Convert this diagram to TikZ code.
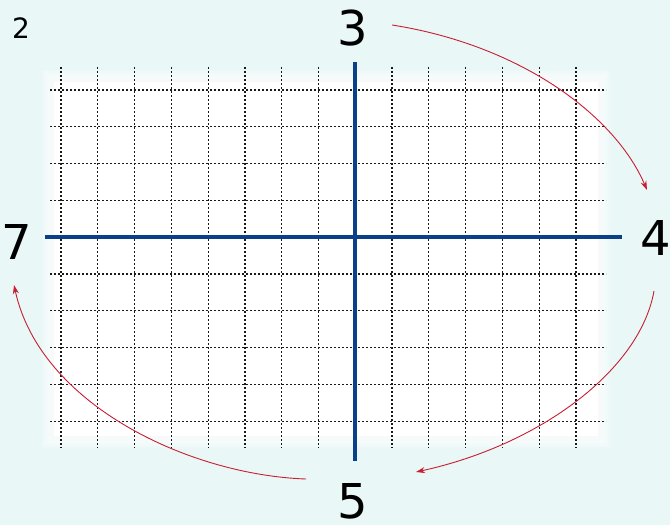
\documentclass[tikz,border=0pt]{standalone}
\usepackage{fontspec}
\setmainfont{DejaVu Sans}
\usetikzlibrary{arrows.meta}
\definecolor{bgc}{RGB}{233,247,247}
\definecolor{axisblue}{RGB}{10,63,138}
\definecolor{arrred}{RGB}{200,30,50}
\begin{document}
\begin{tikzpicture}[x=1pt,y=-1pt,
  gridline/.style={black!90, line width=1.2pt, dash pattern=on 2.2pt off 1.8pt},
  axisline/.style={axisblue, line width=4pt},
  cyc/.style={arrred, line width=0.9pt, -{Stealth[length=9pt,width=6pt]}},
  biglabel/.style={font=\fontsize{48}{48}\selectfont, inner sep=0pt},
  smalllabel/.style={font=\fontsize{28}{28}\selectfont, inner sep=0pt}]
\fill[bgc] (0,0) rectangle (670,525);
\useasboundingbox (0,0) rectangle (670,525);
% soft white sheet
\foreach \i in {0,...,7}
  \fill[white, opacity=0.18] (52-1.5*\i, 80-1.5*\i) rectangle (600+1.5*\i, 438+1.5*\i);
\fill[white] (54,82) rectangle (598,436);
% grid
\foreach \i in {0,...,14}
  \draw[gridline] ({61+36.786*\i},67) -- ({61+36.786*\i},448);
\foreach \j in {0,...,9}
  \draw[gridline] (50,{90+36.8*\j}) -- (606,{90+36.8*\j});
% axes
\coordinate (vtop) at (355,62);
\coordinate (vbot) at (355,461);
\coordinate (hleft) at (45,237);
\coordinate (hright) at (622,237);
\draw[axisline] (vtop) -- (vbot);
\draw[axisline] (hleft) -- (hright);
% labels
\node[smalllabel] (l2) at (21,28) {2};
\node[biglabel] (l3) at (353,28) {3};
\node[biglabel] (l4) at (656,238) {4};
\node[biglabel] (l5) at (353,501) {5};
\node[biglabel] (l7) at (17,242) {7};
% arrows
\coordinate (a1s) at (392,25);
\coordinate (a1e) at (647,190);
\coordinate (a2s) at (654,291);
\coordinate (a2e) at (416,472);
\coordinate (a3s) at (306,479);
\coordinate (a3e) at (14,285);
\draw[cyc] (a1s) .. controls (520,45) and (615,115) .. (a1e);
\draw[cyc] (a2s) .. controls (640,370) and (540,445) .. (a2e);
\draw[cyc] (a3s) .. controls (190,475) and (40,405) .. (a3e);
\end{tikzpicture}
\end{document}
